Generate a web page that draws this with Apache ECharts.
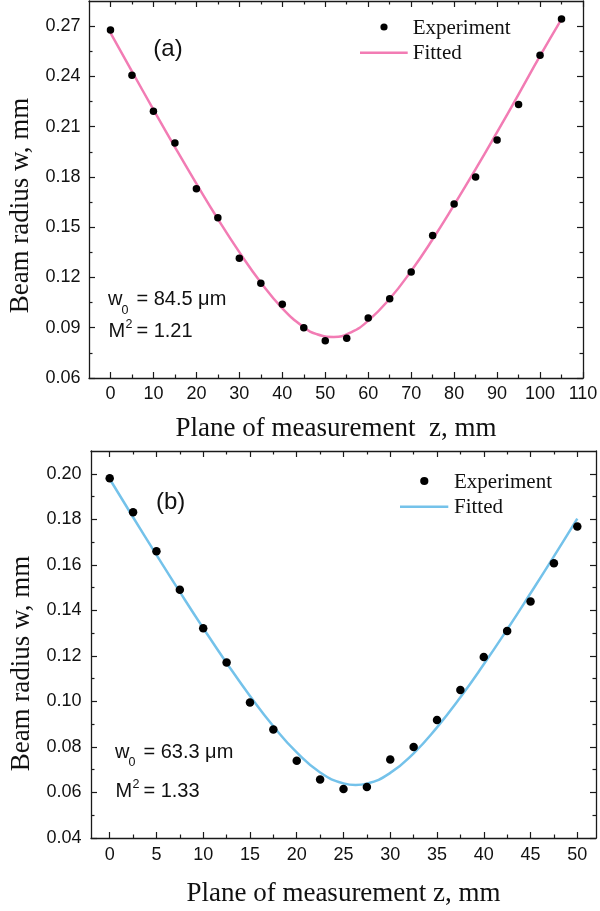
<!DOCTYPE html>
<html><head><meta charset="utf-8">
<script src="https://cdn.jsdelivr.net/npm/echarts@6/dist/echarts.min.js"></script>
<style>html,body{margin:0;padding:0;background:#fff}#c{width:600px;height:911px}</style>
</head><body><div id="c"></div>
<script>
// ---------- Panel (a) ----------
const zExpA = [0,5,10,15,20,25,30,35,40,45,50,55,60,65,70,75,80,85,90,95,100,105];
const wExpA = [0.2677,0.2407,0.2192,0.2003,0.1729,0.1556,0.1314,0.1165,0.1040,0.0900,0.0822,0.0837,0.0958,0.1073,0.1232,0.1451,0.1638,0.1800,0.2021,0.2232,0.2526,0.2743];
const zFitA = [0,5,10,15,20,25,30,35,40,45,48,52,56,60,65,70,75,80,85,90,95,100,105];
const wFitA = [0.2660,0.2430,0.2202,0.1978,0.1760,0.1549,0.1351,0.1170,0.1016,0.0903,0.0862,0.0845,0.0873,0.0942,0.1073,0.1239,0.1428,0.1633,0.1846,0.2067,0.2293,0.2522,0.2742];
const xMajorA = [0,10,20,30,40,50,60,70,80,90,100,110];
const xMinorA = [5,15,25,35,45,55,65,75,85,95,105];
const yMajorA = [0.06,0.09,0.12,0.15,0.18,0.21,0.24,0.27];
const yMinorA = [0.075,0.105,0.135,0.165,0.195,0.225,0.255];
const textA = {w0: '= 84.5 μm', m2: '= 1.21', tag: '(a)'};

// ---------- Panel (b) ----------
const zExpB = [0,2.5,5,7.5,10,12.5,15,17.5,20,22.5,25,27.5,30,32.5,35,37.5,40,42.5,45,47.5,50];
const wExpB = [0.1980,0.1831,0.1660,0.1491,0.1321,0.1171,0.0995,0.0877,0.0739,0.0657,0.0615,0.0624,0.0745,0.0800,0.0918,0.1050,0.1195,0.1309,0.1439,0.1607,0.1768];
const zFitB = [0,2.5,5,7.5,10,12.5,15,17.5,20,22.5,25,26.3,27.5,30,32.5,35,37.5,40,42.5,45,47.5,50];
const wFitB = [0.1977,0.1809,0.1644,0.1481,0.1322,0.1169,0.1024,0.0891,0.0776,0.0688,0.0640,0.0633,0.0639,0.0686,0.0772,0.0886,0.1018,0.1163,0.1316,0.1475,0.1637,0.1803];
const xMajorB = [0,5,10,15,20,25,30,35,40,45,50];
const xMinorB = [2.5,7.5,12.5,17.5,22.5,27.5,32.5,37.5,42.5,47.5];
const yMajorB = [0.04,0.06,0.08,0.10,0.12,0.14,0.16,0.18,0.20];
const yMinorB = [0.05,0.07,0.09,0.11,0.13,0.15,0.17,0.19];
const textB = {w0: '= 63.3 μm', m2: '= 1.33', tag: '(b)'};

const xTitleA = 'Plane of measurement  z, mm';
const xTitleB = 'Plane of measurement z, mm';
const yTitle = 'Beam radius w, mm';
const legendNames = ['Experiment', 'Fitted'];

// ---------- styling ----------
const INK = '#1a1a1a';
const PINK = '#F27CB4';
const BLUE = '#74C2EA';
const SANS = 'Liberation Sans, Arial, sans-serif';
const SERIF = 'Liberation Serif, Times New Roman, serif';

function pair(dim, g, min, max, major, minor, opts) {
  const tickStyle = {color: INK, width: 1.2};
  const mainPos = dim === 'x' ? 'bottom' : 'left';
  const otherPos = dim === 'x' ? 'top' : 'right';
  const base = {type: 'value', gridIndex: g, min: min, max: max, splitLine: {show: false}};
  const axes = [];
  axes.push(Object.assign({}, base, {
    position: mainPos,
    axisLine: {show: true, onZero: false, lineStyle: {color: INK, width: 1.3}},
    axisTick: {show: true, inside: true, length: 6, customValues: major, lineStyle: tickStyle},
    axisLabel: {show: true, customValues: major, margin: opts.margin, formatter: opts.fmt,
      fontFamily: SANS, fontSize: 18, color: '#111'},
    name: opts.name, nameLocation: 'middle', nameGap: opts.nameGap,
    nameTextStyle: {fontFamily: SERIF, fontSize: 27, color: '#111', padding: opts.namePad || 0}
  }));
  axes.push(Object.assign({}, base, {
    position: mainPos,
    axisLine: {show: false, onZero: false},
    axisTick: {show: true, inside: true, length: 3.5, customValues: minor, lineStyle: tickStyle},
    axisLabel: {show: false}
  }));
  axes.push(Object.assign({}, base, {
    position: otherPos,
    axisLine: {show: true, onZero: false, lineStyle: {color: INK, width: 1.3}},
    axisTick: {show: true, inside: true, length: 6, customValues: major, lineStyle: tickStyle},
    axisLabel: {show: false}
  }));
  axes.push(Object.assign({}, base, {
    position: otherPos,
    axisLine: {show: false, onZero: false},
    axisTick: {show: true, inside: true, length: 3.5, customValues: minor, lineStyle: tickStyle},
    axisLabel: {show: false}
  }));
  return axes;
}

const fmtInt = v => String(Math.round(v));
const fmt2 = v => v.toFixed(2);

const xAxis = [].concat(
  pair('x', 0, -5, 110, xMajorA, xMinorA, {fmt: fmtInt, margin: 7.5, name: xTitleA, nameGap: 37}),
  pair('x', 1, -2, 52, xMajorB, xMinorB, {fmt: fmtInt, margin: 8.5, name: xTitleB, nameGap: 42})
);
const yAxis = [].concat(
  pair('y', 0, 0.06, 0.285, yMajorA, yMinorA, {fmt: fmt2, margin: 8.5, name: yTitle, nameGap: 55, namePad: [0, 32, 0, 0]}),
  pair('y', 1, 0.04, 0.21, yMajorB, yMinorB, {fmt: fmt2, margin: 9.5, name: yTitle, nameGap: 55, namePad: [0, 38, 0, 0]})
);

const zip = (a, b) => a.map((v, i) => [v, b[i]]);

function annotBlock(x0, yW, yM, t) {
  const f = {fontFamily: SANS, fontSize: 20, fill: '#111', verticalAlign: 'middle'};
  const small = {fontFamily: SANS, fontSize: 12.5, fill: '#111', verticalAlign: 'middle'};
  return [
    {type: 'text', x: x0, y: yW, style: Object.assign({text: 'w'}, f)},
    {type: 'text', x: x0 + 13.5, y: yW + 10.5, style: Object.assign({text: '0'}, small)},
    {type: 'text', x: x0 + 28.4, y: yW, style: Object.assign({text: t.w0}, f)},
    {type: 'text', x: x0 + 0.5, y: yM, style: Object.assign({text: 'M'}, f)},
    {type: 'text', x: x0 + 17.5, y: yM - 6.5, style: Object.assign({text: '2'}, small)},
    {type: 'text', x: x0 + 28.4, y: yM, style: Object.assign({text: t.m2}, f)}
  ];
}

function legend(dotX, dotY, dotR, lineX1, lineX2, lineY, textX, fitY, color) {
  const lt = {fontFamily: SERIF, fontSize: 21, fill: '#111', verticalAlign: 'middle'};
  return [
    {type: 'circle', shape: {cx: dotX, cy: dotY, r: dotR}, style: {fill: '#000'}},
    {type: 'text', x: textX, y: dotY + 1, style: Object.assign({text: legendNames[0]}, lt)},
    {type: 'line', shape: {x1: lineX1, y1: lineY, x2: lineX2, y2: lineY}, style: {stroke: color, lineWidth: 2.5}},
    {type: 'text', x: textX, y: fitY, style: Object.assign({text: legendNames[1]}, lt)}
  ];
}

function tag(x, y, s) {
  return {type: 'text', x: x, y: y, style: {text: s, fontSize: 24, fontFamily: SANS, fill: '#111', align: 'center', verticalAlign: 'middle'}};
}

const graphic = [].concat(
  [tag(168, 49.5, textA.tag)],
  annotBlock(108, 299.7, 331.3, textA),
  legend(384, 27, 3.6, 360, 407.7, 52.7, 412.7, 53, PINK),
  [tag(170.7, 502, textB.tag)],
  annotBlock(115, 752.3, 791.3, textB),
  legend(424.3, 481, 4.1, 400, 448.3, 506.7, 454, 507.2, BLUE)
);

const option = {
  animation: false,
  backgroundColor: '#fff',
  grid: [
    {left: 89, top: 1, width: 494, height: 377, outerBoundsMode: 'none', containLabel: false},
    {left: 91, top: 451, width: 505, height: 387, outerBoundsMode: 'none', containLabel: false}
  ],
  xAxis: xAxis,
  yAxis: yAxis,
  series: [
    {name: legendNames[1], type: 'line', xAxisIndex: 0, yAxisIndex: 0, data: zip(zFitA, wFitA), smooth: true,
      showSymbol: false, lineStyle: {color: PINK, width: 2.5}, z: 2},
    {name: legendNames[0], type: 'scatter', xAxisIndex: 0, yAxisIndex: 0, data: zip(zExpA, wExpA),
      symbolSize: 7.5, itemStyle: {color: '#000', opacity: 1}, z: 3},
    {name: legendNames[1], type: 'line', xAxisIndex: 4, yAxisIndex: 4, data: zip(zFitB, wFitB), smooth: true,
      showSymbol: false, lineStyle: {color: BLUE, width: 2.5}, z: 2},
    {name: legendNames[0], type: 'scatter', xAxisIndex: 4, yAxisIndex: 4, data: zip(zExpB, wExpB),
      symbolSize: 8.5, itemStyle: {color: '#000', opacity: 1}, z: 3}
  ],
  graphic: graphic
};

const chart = echarts.init(document.getElementById('c'), null, {renderer: 'canvas'});
chart.setOption(option);
</script>
</body></html>
